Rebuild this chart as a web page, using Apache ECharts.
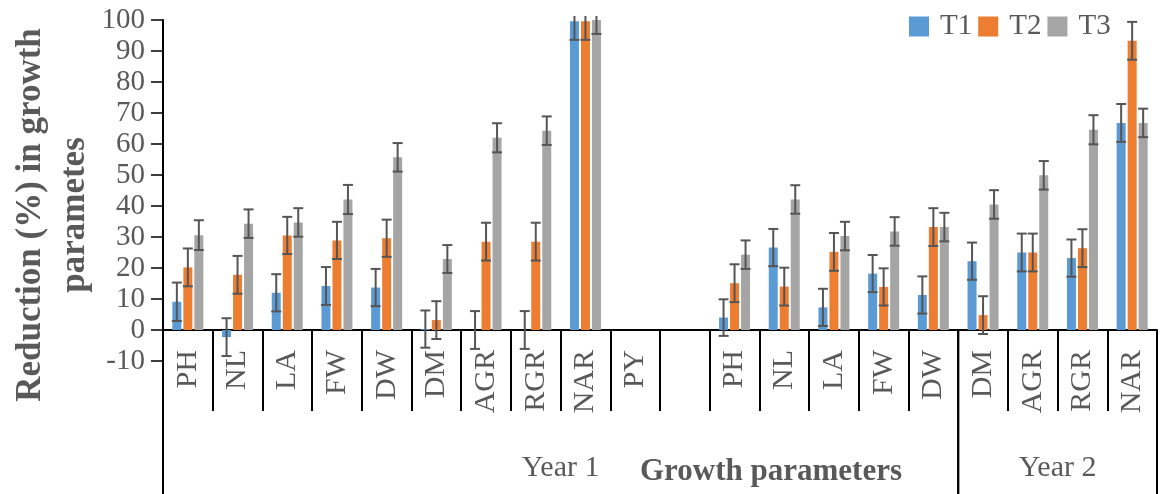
<!DOCTYPE html>
<html>
<head>
<meta charset="utf-8">
<script src="https://cdn.jsdelivr.net/npm/echarts@6/dist/echarts.min.js"></script>
<style>
  html, body { margin: 0; padding: 0; background: #fff; }
  #chart { width: 1160px; height: 494px; }
</style>
</head>
<body>
<div id="chart"></div>
<script>
// Growth parameter codes along the category axis (two seasons, with an empty slot)
const categories = ['PH', 'NL', 'LA', 'FW', 'DW', 'DM', 'AGR', 'RGR', 'NAR', 'PY', '',
                    'PH', 'NL', 'LA', 'FW', 'DW', 'DM', 'AGR', 'RGR', 'NAR'];

// Reduction (%) per treatment
const t1 = [9.1, -2.3, 12, 14.2, 13.7, 0.3, 0, 0, 99.6, null, null,
            4, 26.6, 7.3, 18.2, 11.3, 22.2, 25, 23.2, 66.8];
const t2 = [20.2, 17.8, 30.5, 28.9, 29.6, 3.2, 28.5, 28.5, 99.6, null, null,
            15.1, 14, 25.2, 13.9, 33.2, 4.8, 25, 26.4, 93.3];
const t3 = [30.6, 34.3, 34.7, 42.1, 55.7, 22.9, 62, 64.3, 100, null, null,
            24.3, 42.1, 30.3, 31.8, 33.2, 40.5, 49.9, 64.6, 66.8];

// Error bar half-lengths per treatment
const e1 = [6.2, 6.1, 6, 6.1, 6, 6, 6.1, 6.1, 6, null, null,
            5.9, 6, 6, 6, 6, 6, 6.1, 6, 6.1];
const e2 = [6.1, 6.1, 6, 6, 6, 6.1, 6.1, 6.1, 6, null, null,
            6.1, 6.1, 6.1, 6, 6.1, 6.1, 6.1, 6.1, 6.1];
const e3 = [4.8, 4.6, 4.6, 4.7, 4.6, 4.5, 4.7, 4.6, 4.5, null, null,
            4.6, 4.6, 4.6, 4.6, 4.6, 4.6, 4.6, 4.7, 4.6];

const seriesNames = ['T1', 'T2', 'T3'];

// Season groups: first category index and one-past-last index
const groupNames = ['Year 1', 'Year 2'];
const groupStarts = [0, 16];
const groupEnds = [16, 20];

// Value axis ticks
const yMin = -10, yMax = 100, yStep = 10;

const colors = ['#5B9BD5', '#ED7D31', '#A5A5A5'];
const SERIF = "'Liberation Serif', 'Times New Roman', serif";
const TEXT_GRAY = '#595959';
const BAR_W = 9, BAR_GAP = 2;

const values = [t1, t2, t3];
const errors = [e1, e2, e3];

function errorSeries(k) {
  const data = [];
  values[k].forEach((v, i) => {
    if (v !== null && errors[k][i] !== null) data.push([i, v, errors[k][i]]);
  });
  return {
    type: 'custom',
    name: seriesNames[k] + ' error',
    silent: true,
    z: 5,
    encode: { x: 0, y: 1 },
    data: data,
    renderItem: function (params, api) {
      const idx = api.value(0), v = api.value(1), e = api.value(2);
      const x = api.coord([idx, v])[0] + (k - 1) * (BAR_W + BAR_GAP);
      const limit = api.coord([idx, yMax])[1] - 4;
      let yHi = api.coord([idx, v + e])[1];
      const yLo = api.coord([idx, v - e])[1];
      const style = { stroke: '#555555', lineWidth: 2 };
      const cap = 5;
      const children = [];
      let topCap = true;
      if (yHi < limit) { yHi = limit; topCap = false; }
      children.push({ type: 'line', shape: { x1: x, y1: yHi, x2: x, y2: yLo }, style: style });
      if (topCap) children.push({ type: 'line', shape: { x1: x - cap, y1: yHi, x2: x + cap, y2: yHi }, style: style });
      children.push({ type: 'line', shape: { x1: x - cap, y1: yLo, x2: x + cap, y2: yLo }, style: style });
      return { type: 'group', children: children };
    }
  };
}

// Season brackets under the category labels
const groupSeries = {
  type: 'custom',
  name: 'groups',
  silent: true,
  z: 6,
  encode: { x: 0, y: 1 },
  data: groupNames.map((n, i) => [groupStarts[i], 0, groupEnds[i]]),
  renderItem: function (params, api) {
    const i = params.dataIndex;
    const band = api.size([1, 0])[0];
    const x0 = api.coord([groupStarts[i], 0])[0] - band / 2;
    const x1 = api.coord([groupEnds[i] - 1, 0])[0] + band / 2;
    const yZero = api.coord([0, 0])[1];
    const bottom = api.getHeight();
    const style = { stroke: '#000', lineWidth: 2 };
    return {
      type: 'group',
      children: [
        { type: 'line', shape: { x1: x0, y1: yZero, x2: x0, y2: bottom }, style: style },
        { type: 'line', shape: { x1: x1, y1: yZero, x2: x1, y2: bottom }, style: style },
        { type: 'text', x: (x0 + x1) / 2, y: 468,
          style: { text: groupNames[i], font: '30px ' + SERIF, fill: TEXT_GRAY,
                   align: 'center', verticalAlign: 'middle' } }
      ]
    };
  }
};

const chart = echarts.init(document.getElementById('chart'), null, { renderer: 'canvas' });

const option = {
  animation: false,
  backgroundColor: '#fff',
  color: colors,
  grid: { left: 163, right: 3, top: 20, bottom: 133, containLabel: false, outerBoundsMode: 'none' },
  legend: {
    data: seriesNames,
    left: 904,
    top: 7,
    icon: 'rect',
    itemWidth: 20,
    itemHeight: 20,
    itemGap: 6,
    textStyle: { fontFamily: SERIF, fontSize: 29, color: TEXT_GRAY, padding: [0, 0, 0, 6] }
  },
  xAxis: {
    type: 'category',
    data: categories,
    boundaryGap: true,
    axisLine: { onZero: true, lineStyle: { color: '#000', width: 2 } },
    axisTick: { show: true, interval: 0, length: 81, lineStyle: { color: '#000', width: 2 } },
    axisLabel: { interval: 0, rotate: 90, margin: -11, fontFamily: SERIF, fontSize: 30, color: TEXT_GRAY },
    splitLine: { show: false }
  },
  yAxis: {
    type: 'value',
    min: yMin,
    max: yMax,
    interval: yStep,
    axisLine: { show: true, lineStyle: { color: '#000', width: 2 } },
    axisTick: { show: true, length: 12, lineStyle: { color: '#000', width: 1.5 } },
    axisLabel: { margin: 18, fontFamily: SERIF, fontSize: 29, color: TEXT_GRAY },
    splitLine: { show: false }
  },
  graphic: [{
    type: 'text',
    x: 53, y: 215,
    rotation: Math.PI / 2,
    style: { text: 'Reduction (%) in growth\nparametes', font: 'bold 35px ' + SERIF, fill: TEXT_GRAY,
             lineHeight: 44, align: 'center', verticalAlign: 'middle' }
  }, {
    type: 'text',
    x: 771, y: 472,
    style: { text: 'Growth parameters', font: 'bold 31px ' + SERIF, fill: TEXT_GRAY,
             align: 'center', verticalAlign: 'middle' }
  }],
  series: seriesNames.map((n, k) => ({
    type: 'bar',
    name: n,
    data: values[k].map(v => (v === null ? '-' : v)),
    barWidth: BAR_W,
    barGap: (BAR_GAP / BAR_W * 100).toFixed(1) + '%',
    itemStyle: { color: colors[k] },
    z: 2
  })).concat([errorSeries(0), errorSeries(1), errorSeries(2), groupSeries])
};

chart.setOption(option);
</script>
</body>
</html>
